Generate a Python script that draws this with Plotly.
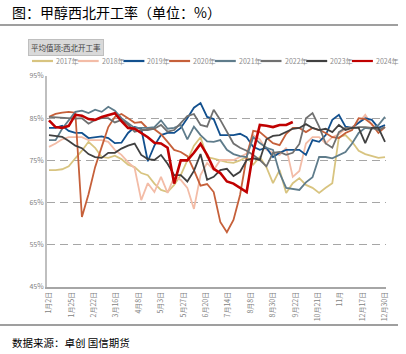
import plotly.graph_objects as go

# ---------------- data ----------------
weeks = list(range(52))
tick_labels = ["1月2日", "1月25日", "2月22日", "3月16日", "4月8日", "5月3日", "5月27日", "6月20日",
               "7月14日", "8月8日", "8月30日", "9月22日", "10月21日", "11月", "12月17日", "12月30日"]

y2017 = [72.7, 72.7, 72.9, 73.6, 75.5, 77.3, 79.4, 78.0, 75.8, 75.6, 76.1, 75.3, 74.0, 73.4, 72.0, 71.5,
         69.5, 68.0, 67.5, 69.2, 71.5, 75.0, 78.5, 80.5, 75.8, 75.4, 75.0, 74.6, 74.4, 75.0, 75.8, 74.0,
         75.8, 73.4, 69.6, 72.7, 67.3, 69.6, 70.8, 69.2, 68.5, 67.3, 68.5, 69.6, 80.5, 81.0, 79.4, 77.3,
         76.5, 76.0, 75.6, 75.8]
y2018 = [78.2, 79.0, 80.0, 80.5, 80.5, 80.5, 79.8, 79.8, 79.8, 79.4, 77.5, 76.3, 74.6, 73.2, 65.6, 69.6,
         67.5, 71.1, 67.3, 71.1, 70.4, 68.5, 63.5, 71.5, 74.4, 72.7, 75.1, 75.1, 75.1, 75.8, 76.6, 81.0,
         80.0, 77.5, 76.8, 76.3, 78.0, 71.1, 72.5, 79.0, 80.5, 80.5, 79.0, 80.5, 81.2, 82.5, 82.9, 83.9,
         85.8, 83.4, 82.7, 83.0]
y2019 = [82.7, 82.7, 83.2, 82.0, 81.5, 81.5, 80.3, 80.5, 80.7, 80.3, 79.1, 79.2, 81.5, 82.9, 82.5, 74.8,
         78.5, 81.0, 81.5, 81.5, 82.7, 85.0, 87.5, 88.6, 85.3, 84.8, 81.0, 81.0, 81.0, 81.3, 80.5, 78.2,
         77.5, 78.0, 75.8, 76.8, 77.5, 77.5, 77.5, 76.3, 79.8, 79.4, 81.0, 84.6, 85.8, 83.0, 82.7, 83.9,
         85.0, 84.6, 82.7, 83.4]
y2020 = [85.3, 86.0, 86.3, 86.5, 86.3, 61.6, 67.0, 73.4, 78.2, 82.9, 85.3, 86.0, 85.0, 83.9, 84.1, 82.5,
         82.4, 81.2, 79.4, 77.5, 77.0, 76.0, 72.7, 69.0, 69.4, 67.5, 60.4, 58.0, 60.9, 66.8, 75.8, 82.0,
         81.7, 80.5, 79.1, 78.6, 81.3, 82.7, 82.7, 81.7, 82.7, 82.2, 81.5, 80.5, 80.3, 81.5, 82.2, 85.0,
         84.8, 83.6, 81.5, 82.9]
y2021 = [79.8, 79.8, 82.5, 84.6, 86.5, 86.8, 86.2, 87.0, 86.5, 87.7, 86.8, 85.0, 83.9, 82.7, 82.7, 82.7,
         82.9, 84.5, 82.5, 82.7, 83.4, 80.0, 83.0, 81.0, 79.5, 79.4, 79.8, 77.5, 76.5, 76.0, 75.8, 80.5,
         79.1, 78.0, 77.5, 72.0, 68.5, 68.3, 68.0, 69.8, 71.0, 75.8, 75.8, 75.5, 76.3, 77.0, 79.0, 81.5,
         82.7, 82.5, 83.4, 85.3]
y2022 = [85.3, 85.2, 85.1, 85.0, 84.9, 85.0, 83.7, 84.6, 85.0, 85.0, 84.0, 84.6, 83.5, 81.8, 82.2, 82.2,
         82.5, 83.4, 81.8, 82.2, 83.9, 85.5, 86.0, 83.4, 83.0, 87.0, 84.6, 81.7, 79.0, 78.0, 77.3, 76.3,
         75.1, 73.6, 76.8, 77.0, 76.3, 76.8, 78.9, 85.0, 86.2, 83.0, 79.0, 78.0, 81.7, 82.7, 82.7, 82.9,
         82.9, 82.7, 82.2, 82.9]
y2023 = [81.0, 80.8, 80.6, 79.6, 78.5, 77.9, 76.5, 75.8, 75.6, 76.8, 76.8, 77.8, 78.5, 79.0, 76.3, 75.3,
         75.1, 76.3, 74.2, 71.5, 71.5, 70.0, 72.5, 76.5, 70.4, 71.1, 72.7, 73.0, 71.3, 72.3, 75.1, 75.5,
         75.1, 80.0, 80.8, 81.0, 81.7, 82.5, 82.7, 83.6, 82.7, 82.2, 82.5, 81.7, 83.4, 82.2, 82.7, 82.7,
         79.1, 82.7, 82.7, 79.4]
y2024 = [84.5, 82.9, 82.7, 83.2, 85.8, 85.6, 84.8, 84.6, 85.3, 85.8, 86.2, 84.3, 82.7, 82.5, 81.5, 80.5,
         79.2, 79.0, 78.0, 69.5, 75.0, 75.0, 76.8, 78.9, 76.3, 73.0, 72.0, 70.0, 69.5, 68.5, 67.5, 77.0,
         83.4, 83.2, 82.9, 83.4, 83.4, 84.1]

series_names = ["2017年", "2018年", "2019年", "2020年", "2021年", "2022年", "2023年", "2024年"]
series_values = [y2017, y2018, y2019, y2020, y2021, y2022, y2023, y2024]
colors = ["#D8C480", "#F3BCA7", "#12508E", "#C6603A", "#5F7C8B", "#707070", "#404040", "#C00000"]
widths = [1.8, 1.8, 1.8, 1.8, 1.8, 1.8, 1.8, 2.6]

# ---------------- figure ----------------
W, H = 406, 354
L, R, T, B = 47, 20, 76, 67
pw, ph = W - L - R, H - T - B

def xp(px):
    return (px - L) / pw

def yp(py):
    return 1 - (py - T) / ph

font = "Noto Sans CJK SC"
fig = go.Figure()
for name, vals, c, w in zip(series_names, series_values, colors, widths):
    fig.add_trace(go.Scatter(x=weeks[:len(vals)], y=vals, mode="lines", name=name,
                             line=dict(color=c, width=w), showlegend=False))

n_ticks = len(tick_labels)
tick_pos = [i * (len(weeks) - 1) / (n_ticks - 1) for i in range(n_ticks)]

fig.update_layout(
    width=W, height=H, margin=dict(l=L, r=R, t=T, b=B),
    paper_bgcolor="white", plot_bgcolor="white",
    font=dict(family=font, color="#7F7F7F", size=7),
    xaxis=dict(range=[-0.3, 51.15], tickmode="array", tickvals=tick_pos, ticktext=tick_labels,
               tickangle=-90, showgrid=False, zeroline=False, showline=True,
               linecolor="#A6A6A6", linewidth=2, ticks="", tickfont=dict(size=7, color="#7F7F7F")),
    yaxis=dict(range=[45, 95], dtick=10, tick0=45, ticksuffix="%", showgrid=True,
               gridcolor="#A6A6A6", gridwidth=1.4, griddash="8px,5px", zeroline=False,
               showline=True, linecolor="#BFBFBF", linewidth=2, ticks="",
               tickfont=dict(size=7, color="#7F7F7F")),
)

# title, rules, footer
fig.add_annotation(x=xp(10), y=yp(12), xref="paper", yref="paper", xanchor="left", yanchor="middle",
                   text="图：甲醇西北开工率（单位：%）", showarrow=False,
                   font=dict(family=font, size=14, color="#000000"))
fig.add_shape(type="line", xref="paper", yref="paper", x0=xp(0), x1=xp(398), y0=yp(25), y1=yp(25),
              line=dict(color="#404040", width=1.2))
fig.add_shape(type="line", xref="paper", yref="paper", x0=xp(0), x1=xp(398), y0=yp(325), y1=yp(325),
              line=dict(color="#404040", width=1.2))
fig.add_annotation(x=xp(10), y=yp(342), xref="paper", yref="paper", xanchor="left", yanchor="middle",
                   text="数据来源：卓创 国信期货", showarrow=False,
                   font=dict(family=font, size=10.5, color="#000000"))

# pivot field button
fig.add_annotation(x=xp(66), y=yp(47.5), xref="paper", yref="paper", xanchor="center", yanchor="middle",
                   text="平均值项:西北开工率", showarrow=False, bgcolor="#D9D9D9", bordercolor="#BFBFBF",
                   borderwidth=1, borderpad=2, font=dict(family=font, size=7.5, color="#404040"))

# legend (manual)
for i, (name, c) in enumerate(zip(series_names, colors)):
    x0 = 32 + i * 45.7
    fig.add_shape(type="line", xref="paper", yref="paper", x0=xp(x0), x1=xp(x0 + 21),
                  y0=yp(61), y1=yp(61), line=dict(color=c, width=2.2))
    fig.add_annotation(x=xp(x0 + 22), y=yp(61), xref="paper", yref="paper", xanchor="left",
                       yanchor="middle", text=name, showarrow=False,
                       font=dict(family=font, size=7, color="#8C8C8C"))

fig.write_html("out.html")
